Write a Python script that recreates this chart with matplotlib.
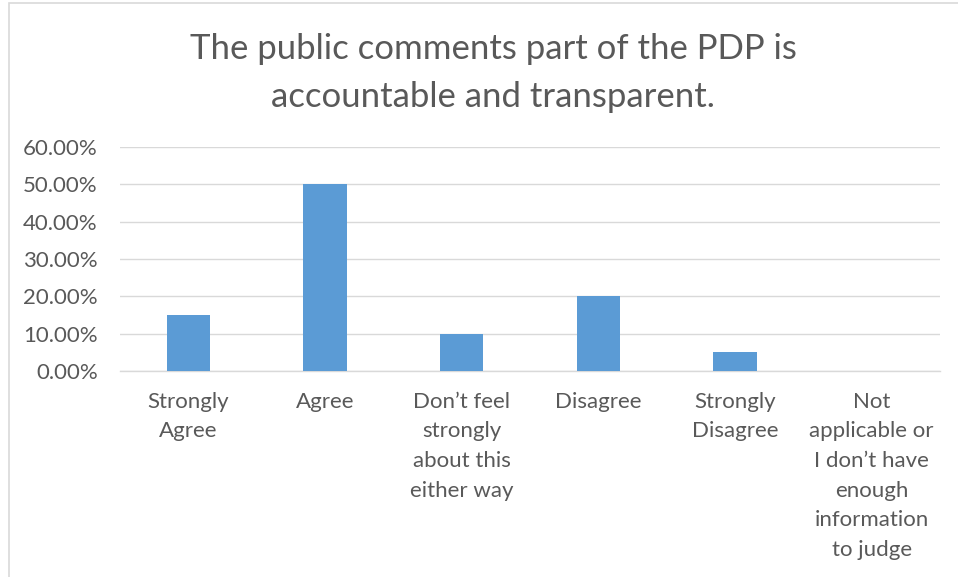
import matplotlib.pyplot as plt
from matplotlib.patches import Rectangle
from matplotlib.ticker import FuncFormatter

# Данные
categories = ["Strongly\nAgree", "Agree", "Don’t feel\nstrongly\nabout this\neither way",
              "Disagree", "Strongly\nDisagree",
              "Not\napplicable or\nI don’t have\nenough\ninformation\nto judge"]
values = [15, 50, 10, 20, 5, 0]
y_ticks = [0, 10, 20, 30, 40, 50, 60]

plt.rcParams["font.family"] = ["Lato", "DejaVu Sans"]
text_color = "#595959"
grid_color = "#D9D9D9"

fig = plt.figure(figsize=(9.58, 5.77), dpi=100)
ax = fig.add_axes([120 / 958, 1 - 371 / 577, 820 / 958, 224 / 577])

# Рамка вокруг диаграммы
fig.patches.append(Rectangle((8.5 / 958, -0.1), 1.1, 1 - 2.5 / 577 + 0.1,
                             transform=fig.transFigure, fill=False,
                             edgecolor=grid_color, linewidth=1.2))

x = range(len(categories))
ax.bar(x, values, width=0.315, color="#5B9BD5", zorder=3)

ax.set_xlim(-0.5, len(categories) - 0.5)
ax.set_ylim(0, 60)
ax.set_yticks(y_ticks)
ax.yaxis.set_major_formatter(FuncFormatter(lambda v, p: f"{v:.2f}%"))
ax.set_xticks(list(x))
ax.set_xticklabels(categories, linespacing=1.6, va="top")

ax.grid(axis="y", color=grid_color, linewidth=1, zorder=0)
for s in ["top", "right", "left"]:
    ax.spines[s].set_visible(False)
ax.spines["bottom"].set_color(grid_color)
ax.spines["bottom"].set_linewidth(1)

ax.tick_params(axis="both", length=0, labelsize=16, colors=text_color)
ax.tick_params(axis="y", pad=16)
ax.tick_params(axis="x", pad=15)

fig.text(493 / 958, 1 - 73 / 577,
         "The public comments part of the PDP is\naccountable and transparent.",
         ha="center", va="center", fontsize=25, color=text_color,
         linespacing=1.65)

fig.savefig("out.png", dpi=100)
